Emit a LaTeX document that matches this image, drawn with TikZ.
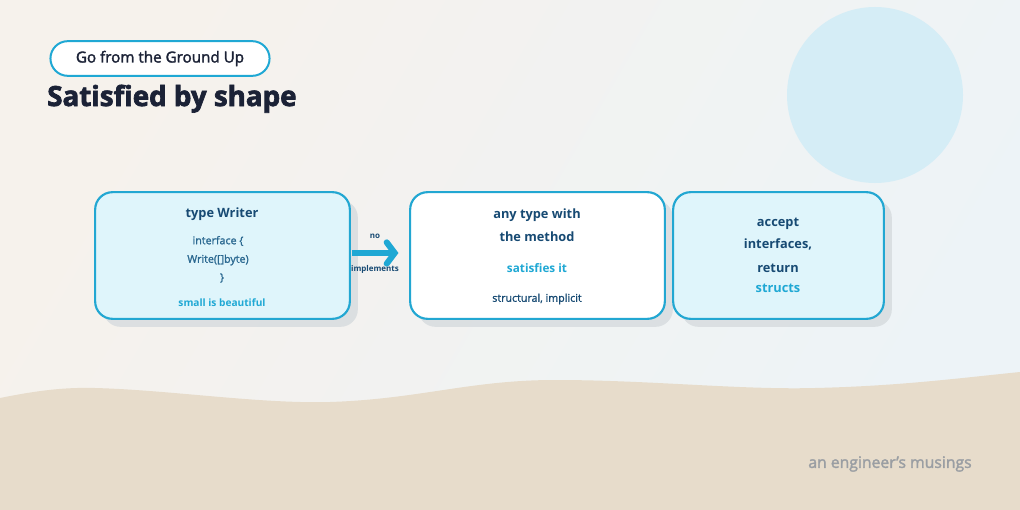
\documentclass[tikz,border=0pt]{standalone}
\usepackage{fontspec}
\setmainfont{Open Sans}
\usetikzlibrary{arrows.meta,shapes.misc}
\definecolor{navy}{HTML}{174A73}
\definecolor{cyanac}{HTML}{1FA8D4}
\definecolor{bordc}{HTML}{22A7D2}
\definecolor{boxfill}{HTML}{DFF5FB}
\definecolor{shadowc}{HTML}{D6DBDE}
\definecolor{titlec}{HTML}{1B2236}
\definecolor{footc}{HTML}{9A9EA3}
\definecolor{sand}{HTML}{E7DCCB}
\definecolor{circc}{HTML}{D5EDF6}
\definecolor{bgwarm}{HTML}{F6F2EC}
\definecolor{bgcool}{HTML}{EDF3F7}
\definecolor{midtext}{HTML}{2A6890}
\tikzset{
  card/.style={draw=bordc, line width=1.6pt, rounded corners=13pt, minimum width=191pt, minimum height=95pt},
  shadowbox/.style={fill=shadowc, rounded corners=13pt, minimum width=191pt, minimum height=95pt, opacity=0.8},
  headt/.style={font=\bfseries\fontsize{9.6}{12}\selectfont, text=navy},
  midt/.style={font=\fontsize{8}{10}\selectfont\addfontfeatures{FakeBold=1.5}, text=midtext},
  acct/.style={font=\bfseries\fontsize{8.8}{11}\selectfont, text=cyanac},
  smallt/.style={font=\fontsize{8}{9}\selectfont\addfontfeatures{FakeBold=1.2}, text=navy},
  lbl/.style={font=\bfseries\fontsize{6}{7}\selectfont, text=navy},
  arr/.style={draw=cyanac, line width=4.5pt, -{Straight Barb[length=6pt,width=16pt,line cap=round]}}
}
\begin{document}
\begin{tikzpicture}[x=0.75pt,y=-0.75pt]
\useasboundingbox (0,0) rectangle (1020,510);
% background
\shade[left color=bgwarm, right color=bgcool, shading angle=60] (0,0) rectangle (1020,510);
\fill[circc] (875,95) circle (88);
\fill[sand] (0,398) .. controls (30,392) and (60,387) .. (95,388)
  .. controls (170,390) and (260,404) .. (330,402)
  .. controls (420,399) and (470,380) .. (555,380)
  .. controls (650,380) and (740,390) .. (815,388)
  .. controls (900,386) and (960,378) .. (1020,372)
  -- (1020,510) -- (0,510) -- cycle;
% header
\node[draw=cyanac, line width=1.5pt, fill=white, rounded rectangle, minimum width=171pt, minimum height=26pt, font=\fontsize{11.4}{13}\selectfont\addfontfeatures{FakeBold=2}, text=titlec] (pill) at (160,58.5) {Go from the Ground Up};
\node[anchor=base west, inner sep=0pt, font=\fontsize{20.8}{24}\selectfont\addfontfeatures{FakeBold=2.5}\bfseries, text=titlec] (title) at (47,106) {Satisfied by shape};
% shadows
\node[shadowbox] (s1) at (230.5,263.5) {};
\node[shadowbox] (s2) at (545.5,263.5) {};
\node[shadowbox, minimum width=158pt] (s3) at (786.5,263.5) {};
% cards
\node[card, fill=boxfill] (b1) at (222.5,255.5) {};
\node[card, fill=white] (b2) at (537.5,255.5) {};
\node[card, fill=boxfill, minimum width=158pt] (b3) at (778.5,255.5) {};
% box 1 text
\node[headt] (t1) at (222,214) {type Writer};
\node[midt] (t2) at (218,241) {interface \{};
\node[midt] (t3) at (218,260) {Write([]byte)};
\node[midt] (t4) at (222,278) {\}};
\node[acct, font=\bfseries\fontsize{7.6}{9}\selectfont] (t5) at (222,303) {small is beautiful};
% box 2 text
\node[headt] (u1) at (537,215) {any type with};
\node[headt] (u2) at (537,237) {the method};
\node[acct] (u3) at (537,268) {satisfies it};
\node[smallt] (u4) at (537,299) {structural, implicit};
% box 3 text
\node[headt] (v1) at (778,224) {accept};
\node[headt] (v2) at (778,244) {interfaces,};
\node[headt] (v3) at (778,268) {return};
\node[acct, font=\bfseries\fontsize{9.6}{12}\selectfont] (v4) at (778,288) {structs};
% arrow
\draw[arr, shorten <=1pt, shorten >=8pt] (b1.east |- 0,253) -- (b2.west |- 0,253);
\node[lbl] (l1) at (375,236) {no};
\node[lbl] (l2) at (375,269) {implements};
% footer
\node[font=\fontsize{11.8}{13}\selectfont\addfontfeatures{FakeBold=2}, text=footc] (foot) at (890,464) {an engineer's musings};
\end{tikzpicture}
\end{document}
